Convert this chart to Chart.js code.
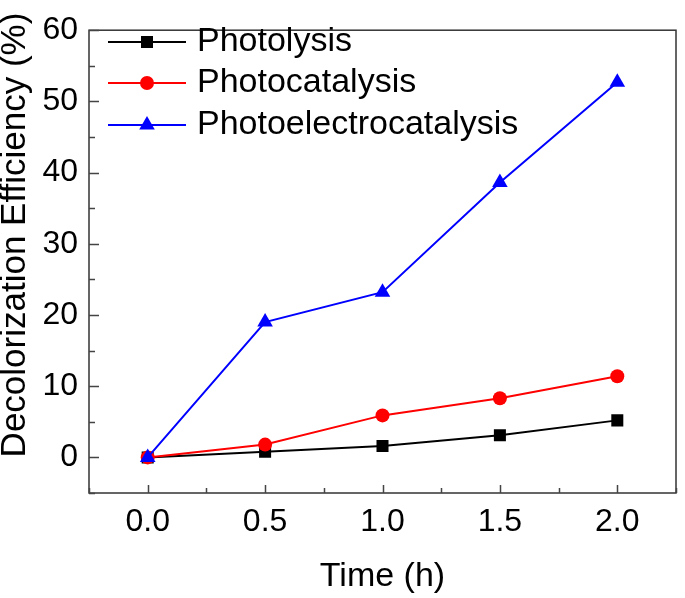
<!DOCTYPE html>
<html>
<head>
<meta charset="utf-8">
<script src="https://cdn.jsdelivr.net/npm/chart.js@4.4.1/dist/chart.umd.min.js"></script>
<style>
    html, body { margin: 0; padding: 0; background: #fff; }
    #chart { display: block; }
</style>
</head>
<body>
<canvas id="chart" width="685" height="598"></canvas>
<script>
// Data
const timeHours = [0, 0.5, 1.0, 1.5, 2.0];
const photolysis = [0, 0.8, 1.6, 3.1, 5.2];
const photocatalysis = [0, 1.8, 5.9, 8.3, 11.4];
const photoelectrocatalysis = [0, 19.0, 23.2, 38.6, 52.7];

const seriesNames = ['Photolysis', 'Photocatalysis', 'Photoelectrocatalysis'];
const xTicks = [0, 0.5, 1.0, 1.5, 2.0];
const xMinorTicks = [-0.25, 0.25, 0.75, 1.25, 1.75, 2.25];
const yTicks = [0, 10, 20, 30, 40, 50, 60];
const yMinorTicks = [-5, 5, 15, 25, 35, 45, 55];
const xTitle = 'Time (h)';
const yTitle = 'Decolorization Efficiency (%)';

const FONT = "'Liberation Sans', Arial, sans-serif";
const colors = ['#000000', '#ff0000', '#0000ff'];
const styles = ['rect', 'circle', 'triangle'];
const radii = [8.5, 7, 9];

function toPoints(values) {
    return timeHours.map((t, i) => ({ x: t, y: values[i] }));
}

const seriesValues = [photolysis, photocatalysis, photoelectrocatalysis];

const datasets = seriesValues.map((vals, i) => ({
    label: seriesNames[i],
    data: toPoints(vals),
    borderColor: colors[i],
    backgroundColor: colors[i],
    borderWidth: 2,
    pointStyle: styles[i],
    pointRadius: radii[i],
    pointBorderWidth: 0,
    pointBackgroundColor: colors[i],
    order: 2 - i,
    tension: 0,
}));

// frame + inward tick marks + axis titles
const framePlugin = {
    id: 'frame',
    afterDraw(chart) {
        const { ctx, chartArea: a, scales } = chart;
        ctx.save();
        ctx.strokeStyle = '#333';
        ctx.lineWidth = 1.5;
        ctx.strokeRect(a.left, a.top, a.right - a.left, a.bottom - a.top);

        ctx.strokeStyle = '#444';
        ctx.beginPath();
        yTicks.forEach(v => {
            const y = Math.round(scales.y.getPixelForValue(v)) + 0.5;
            ctx.moveTo(a.left, y);
            ctx.lineTo(a.left + 10, y);
        });
        yMinorTicks.forEach(v => {
            const y = Math.round(scales.y.getPixelForValue(v)) + 0.5;
            ctx.moveTo(a.left, y);
            ctx.lineTo(a.left + 6, y);
        });
        xTicks.forEach(v => {
            const x = Math.round(scales.x.getPixelForValue(v)) + 0.5;
            ctx.moveTo(x, a.bottom);
            ctx.lineTo(x, a.bottom - 8);
        });
        xMinorTicks.forEach(v => {
            const x = Math.round(scales.x.getPixelForValue(v)) + 0.5;
            ctx.moveTo(x, a.bottom);
            ctx.lineTo(x, a.bottom - 5);
        });
        ctx.stroke();

        ctx.fillStyle = '#000';
        ctx.font = '34px ' + FONT;
        ctx.textAlign = 'center';
        ctx.textBaseline = 'middle';
        ctx.fillText(xTitle, (a.left + a.right) / 2, 577);

        ctx.font = '35px ' + FONT;
        ctx.translate(15, 235);
        ctx.rotate(-Math.PI / 2);
        ctx.fillText(yTitle, 0, 0);
        ctx.restore();
    }
};

// legend drawn inside the plot, top-left
const legendPlugin = {
    id: 'insideLegend',
    afterDraw(chart) {
        const { ctx } = chart;
        const rows = [42, 83, 125];
        ctx.save();
        seriesNames.forEach((name, i) => {
            const y = rows[i];
            ctx.strokeStyle = colors[i];
            ctx.lineWidth = 2;
            ctx.beginPath();
            ctx.moveTo(108, y);
            ctx.lineTo(186, y);
            ctx.stroke();

            ctx.fillStyle = colors[i];
            const cx = 147;
            ctx.beginPath();
            if (styles[i] === 'rect') {
                ctx.rect(cx - 6, y - 6, 12, 12);
            } else if (styles[i] === 'circle') {
                ctx.arc(cx, y, 7, 0, Math.PI * 2);
            } else {
                const r = 9;
                ctx.moveTo(cx, y - r);
                ctx.lineTo(cx + r * Math.sin(Math.PI * 2 / 3), y + r / 2);
                ctx.lineTo(cx - r * Math.sin(Math.PI * 2 / 3), y + r / 2);
                ctx.closePath();
            }
            ctx.fill();

            ctx.fillStyle = '#000';
            ctx.font = '34px ' + FONT;
            ctx.textBaseline = 'middle';
            ctx.textAlign = 'left';
            ctx.fillText(name, 197, y);
        });
        ctx.restore();
    }
};

new Chart(document.getElementById('chart'), {
    type: 'line',
    data: { datasets: datasets },
    options: {
        responsive: false,
        animation: false,
        devicePixelRatio: 1,
        layout: { padding: { left: 0, top: 15, right: 6, bottom: 0 } },
        plugins: {
            legend: { display: false },
            tooltip: { enabled: false },
        },
        scales: {
            x: {
                type: 'linear',
                min: -0.25,
                max: 2.25,
                afterBuildTicks: s => { s.ticks = xTicks.map(v => ({ value: v })); },
                afterFit: s => { s.height = 105; },
                grid: { display: false, drawTicks: false },
                border: { display: false },
                ticks: {
                    color: '#000',
                    padding: 10,
                    font: { family: FONT, size: 32 },
                    callback: v => v.toFixed(1),
                    maxRotation: 0,
                },
            },
            y: {
                min: -5,
                max: 60,
                afterBuildTicks: s => { s.ticks = yTicks.map(v => ({ value: v })); },
                afterFit: s => { s.width = 89; },
                grid: { display: false, drawTicks: false },
                border: { display: false },
                ticks: {
                    color: '#000',
                    padding: 11,
                    font: { family: FONT, size: 32 },
                },
            },
        },
    },
    plugins: [framePlugin, legendPlugin],
});
</script>
</body>
</html>
